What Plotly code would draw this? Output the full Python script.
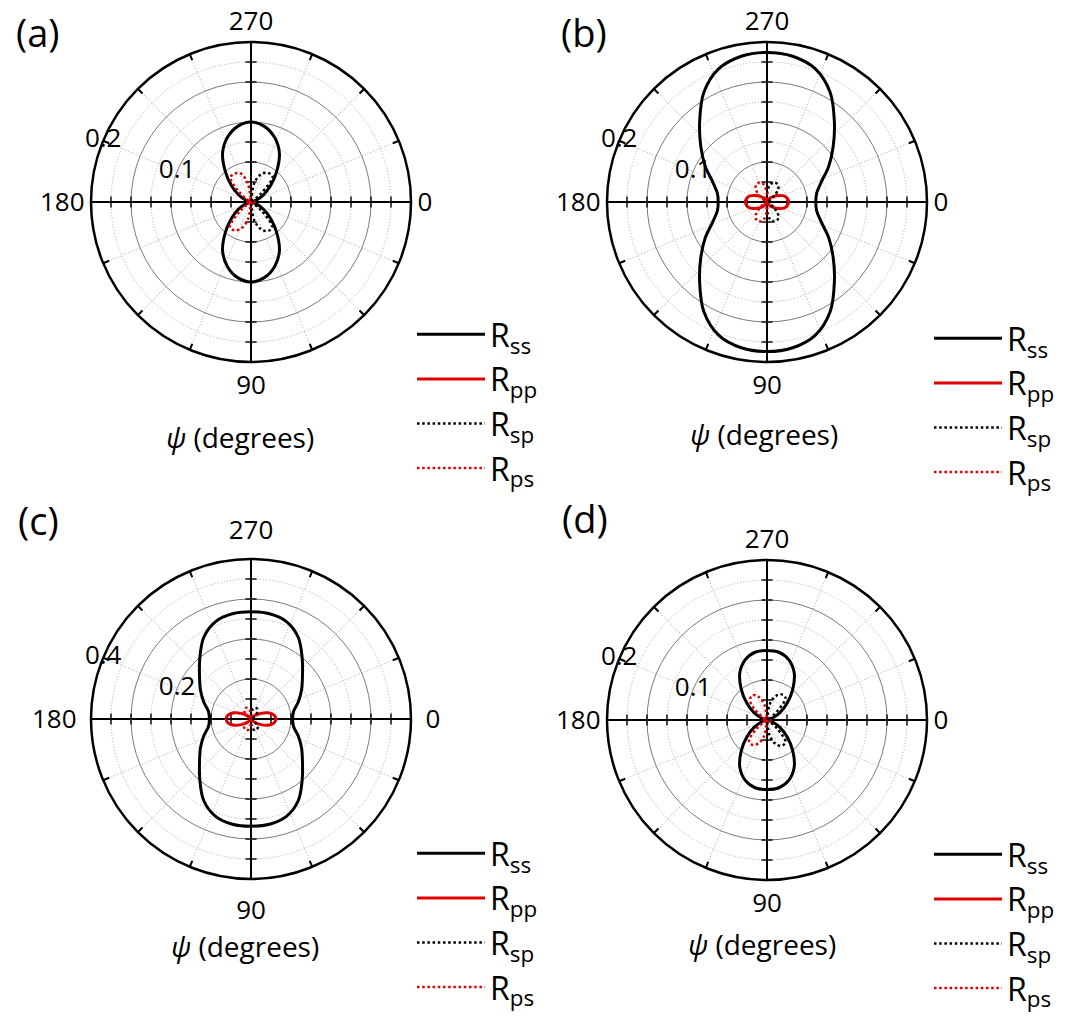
import plotly.graph_objects as go

# Azimuth psi in degrees (0 at right, increasing clockwise)
PSI = list(range(0, 360, 10))

# ---- panel (a) reflectances ----
RSS_A = [0.000, 0.0015, 0.007, 0.018, 0.032, 0.050, 0.071, 0.086, 0.096, 0.100,
         0.096, 0.086, 0.071, 0.050, 0.032, 0.018, 0.007, 0.0015,
         0.000, 0.0015, 0.007, 0.018, 0.032, 0.050, 0.071, 0.086, 0.096,
         0.100, 0.096, 0.086, 0.071, 0.050, 0.032, 0.018, 0.007, 0.0015]
RPP_A = [0.004, 0.0038, 0.0033, 0.0025, 0.0017, 0.001, 0.0005, 0.0002, 0.0, 0.0,
         0.0, 0.0002, 0.0005, 0.001, 0.0017, 0.0025, 0.0033, 0.0038,
         0.004, 0.0038, 0.0033, 0.0025, 0.0017, 0.001, 0.0005, 0.0002, 0.0,
         0.0, 0.0, 0.0002, 0.0005, 0.001, 0.0017, 0.0025, 0.0033, 0.0038]
RSP_A = [0.0, 0.0, 0.0, 0.002, 0.018, 0.041, 0.042, 0.036, 0.023, 0.0,
         0.0, 0.0, 0.0, 0.0, 0.0, 0.0, 0.0, 0.0,
         0.0, 0.0, 0.0, 0.0, 0.0, 0.0, 0.0, 0.0, 0.0,
         0.0, 0.024, 0.037, 0.042, 0.042, 0.017, 0.002, 0.0, 0.0]
RPS_A = [0.0, 0.0, 0.0, 0.0, 0.0, 0.0, 0.0, 0.0, 0.0, 0.0,
         0.022, 0.035, 0.041, 0.041, 0.019, 0.002, 0.0, 0.0,
         0.0, 0.0, 0.0, 0.002, 0.020, 0.040, 0.041, 0.038, 0.024,
         0.0, 0.0, 0.0, 0.0, 0.0, 0.0, 0.0, 0.0, 0.0]

# ---- panel (b) reflectances ----
RSS_B = [0.061, 0.063, 0.072, 0.089, 0.108, 0.131, 0.158, 0.177, 0.185, 0.187,
         0.185, 0.177, 0.158, 0.131, 0.108, 0.089, 0.072, 0.063,
         0.061, 0.063, 0.072, 0.089, 0.108, 0.131, 0.158, 0.177, 0.185,
         0.187, 0.185, 0.177, 0.158, 0.131, 0.108, 0.089, 0.072, 0.063]
RPP_B = [0.027, 0.0258, 0.0224, 0.016, 0.011, 0.0065, 0.003, 0.001, 0.0002, 0.0,
         0.0002, 0.001, 0.003, 0.0065, 0.011, 0.016, 0.0224, 0.0258,
         0.027, 0.0258, 0.0224, 0.016, 0.011, 0.0065, 0.003, 0.001, 0.0002,
         0.0, 0.0002, 0.001, 0.003, 0.0065, 0.011, 0.016, 0.0224, 0.0258]
RSP_B = [0.0, 0.0, 0.0, 0.002, 0.012, 0.022, 0.026, 0.026, 0.022, 0.010,
         0.0, 0.0, 0.0, 0.0, 0.0, 0.0, 0.0, 0.0,
         0.0, 0.0, 0.0, 0.0, 0.0, 0.0, 0.0, 0.0, 0.0,
         0.010, 0.022, 0.026, 0.026, 0.022, 0.012, 0.002, 0.0, 0.0]
RPS_B = [0.0, 0.0, 0.0, 0.0, 0.0, 0.0, 0.0, 0.0, 0.0, 0.010,
         0.022, 0.026, 0.026, 0.022, 0.012, 0.002, 0.0, 0.0,
         0.0, 0.0, 0.0, 0.002, 0.012, 0.022, 0.026, 0.026, 0.022,
         0.010, 0.0, 0.0, 0.0, 0.0, 0.0, 0.0, 0.0, 0.0]

# ---- panel (c) reflectances ----
RSS_C = [0.104, 0.108, 0.126, 0.146, 0.168, 0.199, 0.236, 0.259, 0.267, 0.268,
         0.267, 0.259, 0.236, 0.199, 0.168, 0.146, 0.126, 0.108,
         0.104, 0.108, 0.126, 0.146, 0.168, 0.199, 0.236, 0.259, 0.267,
         0.268, 0.267, 0.259, 0.236, 0.199, 0.168, 0.146, 0.126, 0.108]
RPP_C = [0.062, 0.058, 0.045, 0.028, 0.015, 0.007, 0.003, 0.001, 0.0, 0.0,
         0.0, 0.001, 0.003, 0.007, 0.015, 0.028, 0.045, 0.058,
         0.062, 0.058, 0.045, 0.028, 0.015, 0.007, 0.003, 0.001, 0.0,
         0.0, 0.0, 0.001, 0.003, 0.007, 0.015, 0.028, 0.045, 0.058]
RSP_C = [0.0, 0.0, 0.0, 0.003, 0.015, 0.026, 0.030, 0.030, 0.025, 0.010,
         0.0, 0.0, 0.0, 0.0, 0.0, 0.0, 0.0, 0.0,
         0.0, 0.0, 0.0, 0.0, 0.0, 0.0, 0.0, 0.0, 0.0,
         0.010, 0.025, 0.030, 0.030, 0.026, 0.015, 0.003, 0.0, 0.0]
RPS_C = [0.0, 0.0, 0.0, 0.0, 0.0, 0.0, 0.0, 0.0, 0.0, 0.010,
         0.025, 0.030, 0.030, 0.026, 0.015, 0.003, 0.0, 0.0,
         0.0, 0.0, 0.0, 0.003, 0.015, 0.026, 0.030, 0.030, 0.025,
         0.010, 0.0, 0.0, 0.0, 0.0, 0.0, 0.0, 0.0, 0.0]

# ---- panel (d) reflectances ----
RSS_D = [0.000, 0.002, 0.008, 0.019, 0.033, 0.050, 0.068, 0.080, 0.086, 0.087,
         0.086, 0.080, 0.068, 0.050, 0.033, 0.019, 0.008, 0.002,
         0.000, 0.002, 0.008, 0.019, 0.033, 0.050, 0.068, 0.080, 0.086,
         0.087, 0.086, 0.080, 0.068, 0.050, 0.033, 0.019, 0.008, 0.002]
RPP_D = [0.004, 0.0038, 0.0033, 0.0025, 0.0017, 0.001, 0.0005, 0.0002, 0.0, 0.0,
         0.0, 0.0002, 0.0005, 0.001, 0.0017, 0.0025, 0.0033, 0.0038,
         0.004, 0.0038, 0.0033, 0.0025, 0.0017, 0.001, 0.0005, 0.0002, 0.0,
         0.0, 0.0, 0.0002, 0.0005, 0.001, 0.0017, 0.0025, 0.0033, 0.0038]
RSP_D = [0.0, 0.0, 0.0, 0.002, 0.016, 0.036, 0.037, 0.032, 0.020, 0.0,
         0.0, 0.0, 0.0, 0.0, 0.0, 0.0, 0.0, 0.0,
         0.0, 0.0, 0.0, 0.0, 0.0, 0.0, 0.0, 0.0, 0.0,
         0.0, 0.020, 0.032, 0.037, 0.036, 0.016, 0.002, 0.0, 0.0]
RPS_D = [0.0, 0.0, 0.0, 0.0, 0.0, 0.0, 0.0, 0.0, 0.0, 0.0,
         0.020, 0.031, 0.036, 0.035, 0.018, 0.002, 0.0, 0.0,
         0.0, 0.0, 0.0, 0.002, 0.020, 0.033, 0.036, 0.031, 0.020,
         0.0, 0.0, 0.0, 0.0, 0.0, 0.0, 0.0, 0.0, 0.0]

# radial range and labelled radii per panel
R_MAX = [0.2, 0.2, 0.4, 0.2]
R_LABELS = [["0.1", "0.2"], ["0.1", "0.2"], ["0.2", "0.4"], ["0.1", "0.2"]]
PANEL_TAGS = ["(a)", "(b)", "(c)", "(d)"]
ANGLE_TICKS = [0, 90, 180, 270]
SERIES_NAMES = ["R<sub>ss</sub>", "R<sub>pp</sub>", "R<sub>sp</sub>", "R<sub>ps</sub>"]

SERIES = [
    [RSS_A, RPP_A, RSP_A, RPS_A],
    [RSS_B, RPP_B, RSP_B, RPS_B],
    [RSS_C, RPP_C, RSP_C, RPS_C],
    [RSS_D, RPP_D, RSP_D, RPS_D],
]

BLACK = "#000000"
RED = "#e00000"
STYLES = [
    dict(color=BLACK, width=3, dash="solid"),
    dict(color=RED, width=3, dash="solid"),
    dict(color=BLACK, width=2.5, dash="2.5px,2.7px"),
    dict(color=RED, width=2.5, dash="2.5px,2.7px"),
]

FONT = "Open Sans"
W, H = 1066, 1025
RADIUS = 160
CENTERS = [(251, 202), (767, 202), (251, 719), (767, 720)]
LEGEND_POS = [(412, 307), (929, 311), (412, 826), (929, 827)]
TAG_POS = [(38, 32), (584, 32), (38, 520), (585, 518)]
XLABEL_POS = [(240, 437), (764, 434), (245, 946), (762, 944)]
LABEL_PAD = [0, 0, 8, 0]
MINOR_GRID = dict(gridcolor="#a8a8a8", griddash="1px,2px", gridwidth=1)


def subplot_id(n):
    return "polar" if n == 1 else f"polar{n}"


fig = go.Figure()
layout = dict(
    width=W, height=H,
    margin=dict(l=0, r=0, t=0, b=0),
    paper_bgcolor="white",
    font=dict(family=FONT, color="black"),
    annotations=[],
)

# background polar of each panel: fine dotted grid and rim ticks
for i in range(4):
    cx, cy = CENTERS[i]
    dom = dict(x=[(cx - RADIUS) / W, (cx + RADIUS) / W],
               y=[1 - (cy + RADIUS) / H, 1 - (cy - RADIUS) / H])
    rmax = R_MAX[i]
    gid = subplot_id(i + 1)
    layout[gid] = dict(
        domain=dom, bgcolor="white",
        radialaxis=dict(range=[0, rmax], tickvals=[rmax * k / 8 for k in (1, 3, 5, 7)],
                        showticklabels=False, ticks="", showline=False, **MINOR_GRID),
        angularaxis=dict(rotation=0, direction="clockwise",
                         tickvals=[22.5 * k for k in range(16)],
                         showticklabels=False, ticks="inside", ticklen=6, tickwidth=2,
                         tickcolor=BLACK, showline=False, **MINOR_GRID),
    )
    fig.add_trace(go.Scatterpolar(r=[0], theta=[0], subplot=gid, mode="markers",
                                  marker=dict(size=1, color="rgba(0,0,0,0)"),
                                  showlegend=False, hoverinfo="skip"))

# foreground polar of each panel: main grid, cross axes, rim and data
for i in range(4):
    cx, cy = CENTERS[i]
    dom = dict(x=[(cx - RADIUS) / W, (cx + RADIUS) / W],
               y=[1 - (cy + RADIUS) / H, 1 - (cy - RADIUS) / H])
    rmax = R_MAX[i]
    mid = subplot_id(i + 5)
    legend_id = "legend" if i == 0 else f"legend{i + 1}"

    axis_ticks = dict(ticks="", ticklen=0)
    if LABEL_PAD[i]:
        axis_ticks = dict(ticks="outside", ticklen=LABEL_PAD[i], tickcolor="rgba(0,0,0,0)")
    layout[mid] = dict(
        domain=dom, bgcolor="rgba(0,0,0,0)",
        radialaxis=dict(range=[0, rmax], tickvals=[rmax / 4, rmax / 2, 3 * rmax / 4],
                        showticklabels=False, ticks="", showline=False,
                        gridcolor="#7a7a7a", gridwidth=1.3),
        angularaxis=dict(rotation=0, direction="clockwise",
                         tickvals=ANGLE_TICKS, ticktext=[str(a) for a in ANGLE_TICKS],
                         tickfont=dict(size=26, family=FONT, color=BLACK),
                         showline=True, linecolor=BLACK, linewidth=2.5,
                         gridcolor=BLACK, gridwidth=1.5, **axis_ticks),
    )

    # minor ticks along the cross axes
    steps = [rmax * k / 8 for k in range(1, 8)]
    fig.add_trace(go.Scatterpolar(
        r=steps + steps, theta=[0] * 7 + [180] * 7, subplot=mid, mode="markers",
        marker=dict(symbol="line-ns", size=8, line=dict(width=1.4, color=BLACK)),
        showlegend=False, hoverinfo="skip"))
    fig.add_trace(go.Scatterpolar(
        r=steps + steps, theta=[90] * 7 + [270] * 7, subplot=mid, mode="markers",
        marker=dict(symbol="line-ew", size=8, line=dict(width=1.4, color=BLACK)),
        showlegend=False, hoverinfo="skip"))

    # data curves
    for vals, name, st in zip(SERIES[i], SERIES_NAMES, STYLES):
        fig.add_trace(go.Scatterpolar(
            r=vals + [vals[0]], theta=PSI + [360], subplot=mid, mode="lines",
            name=name, legend=legend_id,
            line=dict(color=st["color"], width=st["width"], dash=st["dash"], shape="spline"),
            hoverinfo="skip"))

    # radial value labels
    fig.add_trace(go.Scatterpolar(
        r=[rmax / 2, rmax], theta=[202.5, 202.5], subplot=mid, mode="text",
        text=R_LABELS[i], textposition="middle center",
        textfont=dict(size=26, family=FONT, color=BLACK),
        showlegend=False, hoverinfo="skip", cliponaxis=False))

    lx, ly = LEGEND_POS[i]
    layout[legend_id] = dict(
        x=lx / W, y=1 - ly / H, xanchor="left", yanchor="top",
        bgcolor="rgba(0,0,0,0)", itemwidth=68, traceorder="normal",
        font=dict(size=32, family=FONT, color=BLACK))

    tx, ty = TAG_POS[i]
    layout["annotations"].append(dict(
        text=PANEL_TAGS[i], x=tx / W, y=1 - ty / H, xref="paper", yref="paper",
        xanchor="center", yanchor="middle", showarrow=False,
        font=dict(size=38, family=FONT, color=BLACK)))
    xx, xy = XLABEL_POS[i]
    layout["annotations"].append(dict(
        text="<i>ψ</i> (degrees)", x=xx / W, y=1 - xy / H, xref="paper", yref="paper",
        xanchor="center", yanchor="middle", showarrow=False,
        font=dict(size=28, family=FONT, color=BLACK)))

fig.update_layout(**layout)
fig.write_html("out.html")
